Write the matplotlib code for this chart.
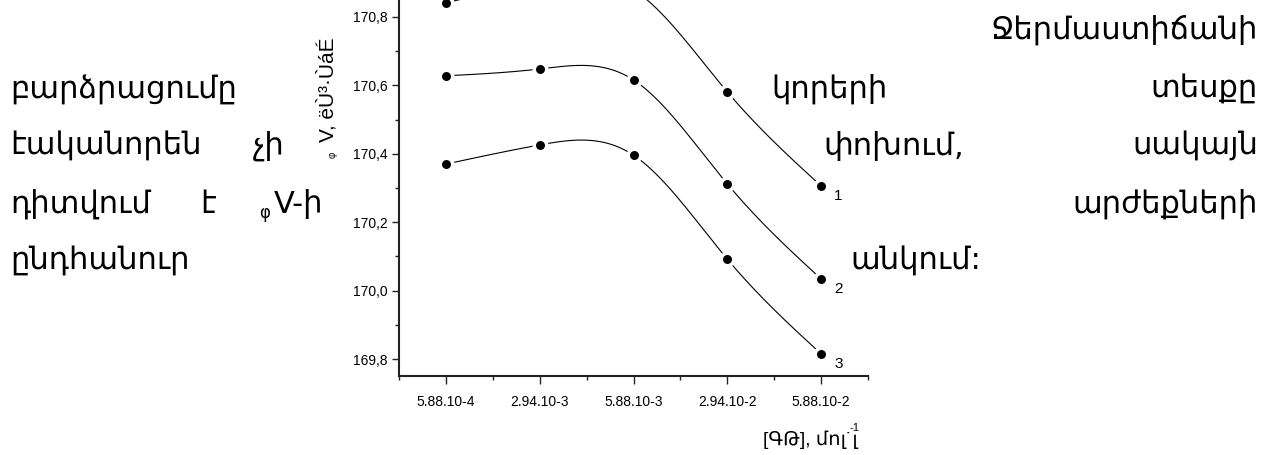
import matplotlib
matplotlib.use('Agg')
import matplotlib.pyplot as plt
from matplotlib.ticker import MultipleLocator
import numpy as np

plt.rcParams['font.family'] = ['Liberation Sans', 'DejaVu Sans']

# concentration categories (equally spaced on the axis)
conc_labels = ['5.88.10-4', '2.94.10-3', '5.88.10-3', '2.94.10-2', '5.88.10-2']
# apparent molar volume, three temperatures (curves 1, 2, 3)
v1 = [170.841, 170.905, 170.880, 170.581, 170.306]
v2 = [170.628, 170.648, 170.616, 170.312, 170.034]
v3 = [170.370, 170.426, 170.396, 170.092, 169.815]
curve_names = ['1', '2', '3']


def spline(x, y, n=200):
    # natural cubic spline, only used to draw the smooth line
    x = np.asarray(x, float)
    y = np.asarray(y, float)
    k = len(x)
    h = np.diff(x)
    A = np.zeros((k, k))
    b = np.zeros(k)
    A[0, 0] = A[-1, -1] = 1
    for i in range(1, k - 1):
        A[i, i - 1] = h[i - 1]
        A[i, i] = 2 * (h[i - 1] + h[i])
        A[i, i + 1] = h[i]
        b[i] = 6 * ((y[i + 1] - y[i]) / h[i] - (y[i] - y[i - 1]) / h[i - 1])
    m = np.linalg.solve(A, b)
    xs = np.linspace(x[0], x[-1], n)
    idx = np.clip(np.searchsorted(x, xs) - 1, 0, k - 2)
    t = xs - x[idx]
    hi = h[idx]
    a = (m[idx + 1] - m[idx]) / (6 * hi)
    bb = m[idx] / 2
    c = (y[idx + 1] - y[idx]) / hi - hi * (2 * m[idx] + m[idx + 1]) / 6
    return xs, y[idx] + c * t + bb * t ** 2 + a * t ** 3


W, H = 1273, 455
fig = plt.figure(figsize=(W / 100, H / 100), dpi=100)

# the chart is cut by the top edge of the page, so the axes top = figure top
ax_l, ax_r, ax_b = 399, 868, 376
px_per_unit = 342.0
ymin = 169.8 - (ax_b - 359) / px_per_unit
ymax = 169.8 + 359 / px_per_unit
ax = fig.add_axes([ax_l / W, 1 - ax_b / H, (ax_r - ax_l) / W, ax_b / H])

xpos = np.arange(len(conc_labels))
for vals, name in zip([v1, v2, v3], curve_names):
    xs, ys = spline(xpos, vals)
    ax.plot(xs, ys, color='black', lw=0.8, zorder=2)
    ax.plot(xpos, vals, 'o', color='black', ms=9, mew=2.5, mec='white', zorder=3)
    ax.annotate(name, (xpos[-1], vals[-1]), xytext=(13, -10), textcoords='offset pixels',
                fontsize=11, ha='left', va='center')

ax.set_xlim(-0.5, 4.5)
ax.set_ylim(ymin, ymax)
ax.set_xticks(xpos)
ax.set_xticklabels(conc_labels)
ax.xaxis.set_minor_locator(MultipleLocator(0.5))
ax.yaxis.set_major_locator(MultipleLocator(0.2))
ax.yaxis.set_minor_locator(MultipleLocator(0.1))
ax.yaxis.set_major_formatter(lambda v, p: f'{v:.1f}'.replace('.', ','))
ax.spines['top'].set_visible(False)
ax.spines['right'].set_visible(False)
for s in ['left', 'bottom']:
    ax.spines[s].set_linewidth(1.5)
    ax.spines[s].set_color('#222222')
ax.tick_params(axis='x', which='major', direction='out', length=6, width=1, pad=8,
               labelsize=10, color='#222222')
ax.tick_params(axis='x', which='minor', direction='out', length=3, width=1, color='#222222')
ax.tick_params(axis='y', which='major', direction='out', length=5, width=1, pad=3,
               labelsize=10, color='#222222')
ax.tick_params(axis='y', which='minor', direction='out', length=3, width=1, color='#222222')


def fx(px):
    return px / W


def fy(py):
    return 1 - py / H


# axis titles
fig.text(fx(327), fy(90), 'V, ëÙ³·ÙáÉ', rotation=90, fontsize=15, ha='center', va='center')
fig.text(fx(333), fy(155), 'φ', rotation=90, fontsize=7, ha='center', va='center')
fig.text(fx(763), fy(440), '[ԳԹ], մոլ˙լ', fontsize=14, ha='left', va='center')
fig.text(fx(850), fy(428), '-1', fontsize=8, ha='left', va='center')

# surrounding paragraph text
body = dict(fontsize=22, family='DejaVu Sans', va='baseline')
fig.text(fx(1258), fy(39), 'Ջերմաստիճանի', ha='right', **body)
fig.text(fx(10), fy(98), 'բարձրացումը', ha='left', **body)
fig.text(fx(771), fy(98), 'կորերի', ha='left', **body)
fig.text(fx(1258), fy(98), 'տեսքը', ha='right', **body)
fig.text(fx(10), fy(155), 'էականորեն', ha='left', **body)
fig.text(fx(253), fy(155), 'չի', ha='left', **body)
fig.text(fx(823), fy(155), 'փոխում,', ha='left', **body)
fig.text(fx(1258), fy(155), 'սակայն', ha='right', **body)
fig.text(fx(10), fy(213), 'դիտվում', ha='left', **body)
fig.text(fx(200), fy(213), 'է', ha='left', **body)
fig.text(fx(259), fy(218), 'φ', ha='left', fontsize=12, family='DejaVu Sans', va='baseline')
fig.text(fx(274), fy(213), 'V-ի', ha='left', **body)
fig.text(fx(1258), fy(213), 'արժեքների', ha='right', **body)
fig.text(fx(10), fy(270), 'ընդհանուր', ha='left', **body)
fig.text(fx(850), fy(270), 'անկում:', ha='left', **body)

fig.savefig('out.png', dpi=100)
